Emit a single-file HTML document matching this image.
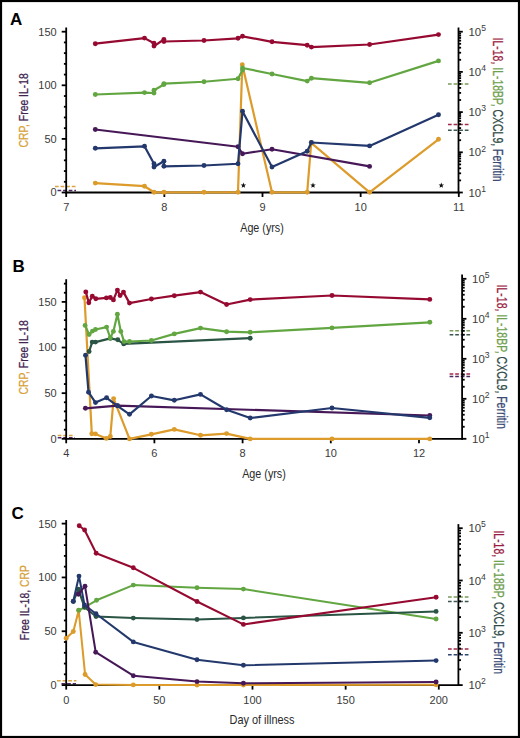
<!DOCTYPE html>
<html><head><meta charset="utf-8"><style>
html,body{margin:0;padding:0;background:#fff;}
svg{display:block;font-family:"Liberation Sans", sans-serif;}
</style></head><body>
<svg width="520" height="738" viewBox="0 0 520 738">
<rect x="1" y="1" width="518" height="736" fill="#fff" stroke="#000" stroke-width="2.2"/>
<line x1="55" y1="186.5" x2="75.5" y2="186.5" stroke="#d9a545" stroke-width="1.5" stroke-dasharray="3.7 1.9"/>
<line x1="57.5" y1="190.6" x2="76" y2="190.6" stroke="#4d2860" stroke-width="1.5" stroke-dasharray="3.7 1.9"/>
<line x1="448" y1="84" x2="469" y2="84" stroke="#7a9c58" stroke-width="1.5" stroke-dasharray="3.7 1.9"/>
<line x1="448" y1="124.6" x2="470" y2="124.6" stroke="#a3284a" stroke-width="1.5" stroke-dasharray="3.7 1.9"/>
<line x1="448" y1="130.3" x2="470" y2="130.3" stroke="#3b5652" stroke-width="1.5" stroke-dasharray="3.7 1.9"/>
<line x1="66.20" y1="27.50" x2="66.20" y2="193.40" stroke="#000" stroke-width="1.8" />
<line x1="61.70" y1="192.50" x2="66.20" y2="192.50" stroke="#000" stroke-width="1.8" />
<text x="56.70" y="196.40" font-size="11" text-anchor="end" fill="#3a3a3a" >0</text>
<line x1="63.90" y1="181.78" x2="66.20" y2="181.78" stroke="#000" stroke-width="1.8" />
<line x1="63.90" y1="171.06" x2="66.20" y2="171.06" stroke="#000" stroke-width="1.8" />
<line x1="63.90" y1="160.34" x2="66.20" y2="160.34" stroke="#000" stroke-width="1.8" />
<line x1="63.90" y1="149.62" x2="66.20" y2="149.62" stroke="#000" stroke-width="1.8" />
<line x1="61.70" y1="138.90" x2="66.20" y2="138.90" stroke="#000" stroke-width="1.8" />
<text x="56.70" y="142.80" font-size="11" text-anchor="end" fill="#3a3a3a" >50</text>
<line x1="63.90" y1="128.18" x2="66.20" y2="128.18" stroke="#000" stroke-width="1.8" />
<line x1="63.90" y1="117.46" x2="66.20" y2="117.46" stroke="#000" stroke-width="1.8" />
<line x1="63.90" y1="106.74" x2="66.20" y2="106.74" stroke="#000" stroke-width="1.8" />
<line x1="63.90" y1="96.02" x2="66.20" y2="96.02" stroke="#000" stroke-width="1.8" />
<line x1="61.70" y1="85.30" x2="66.20" y2="85.30" stroke="#000" stroke-width="1.8" />
<text x="56.70" y="89.20" font-size="11" text-anchor="end" fill="#3a3a3a" >100</text>
<line x1="63.90" y1="74.58" x2="66.20" y2="74.58" stroke="#000" stroke-width="1.8" />
<line x1="63.90" y1="63.86" x2="66.20" y2="63.86" stroke="#000" stroke-width="1.8" />
<line x1="63.90" y1="53.14" x2="66.20" y2="53.14" stroke="#000" stroke-width="1.8" />
<line x1="63.90" y1="42.42" x2="66.20" y2="42.42" stroke="#000" stroke-width="1.8" />
<line x1="61.70" y1="31.70" x2="66.20" y2="31.70" stroke="#000" stroke-width="1.8" />
<text x="56.70" y="35.60" font-size="11" text-anchor="end" fill="#3a3a3a" >150</text>
<line x1="458.50" y1="27.50" x2="458.50" y2="193.40" stroke="#000" stroke-width="1.8" />
<line x1="458.50" y1="192.50" x2="462.80" y2="192.50" stroke="#000" stroke-width="1.8" />
<text x="468.50" y="196.60" font-size="11.4" fill="#3a3a3a">10<tspan dy="-4.9" font-size="8.6">1</tspan></text>
<line x1="458.50" y1="180.40" x2="461.10" y2="180.40" stroke="#000" stroke-width="1.8" />
<line x1="458.50" y1="173.32" x2="461.10" y2="173.32" stroke="#000" stroke-width="1.8" />
<line x1="458.50" y1="168.30" x2="461.10" y2="168.30" stroke="#000" stroke-width="1.8" />
<line x1="458.50" y1="164.40" x2="461.10" y2="164.40" stroke="#000" stroke-width="1.8" />
<line x1="458.50" y1="161.22" x2="461.10" y2="161.22" stroke="#000" stroke-width="1.8" />
<line x1="458.50" y1="158.53" x2="461.10" y2="158.53" stroke="#000" stroke-width="1.8" />
<line x1="458.50" y1="156.20" x2="461.10" y2="156.20" stroke="#000" stroke-width="1.8" />
<line x1="458.50" y1="154.14" x2="461.10" y2="154.14" stroke="#000" stroke-width="1.8" />
<line x1="458.50" y1="152.30" x2="462.80" y2="152.30" stroke="#000" stroke-width="1.8" />
<text x="468.50" y="156.40" font-size="11.4" fill="#3a3a3a">10<tspan dy="-4.9" font-size="8.6">2</tspan></text>
<line x1="458.50" y1="140.20" x2="461.10" y2="140.20" stroke="#000" stroke-width="1.8" />
<line x1="458.50" y1="133.12" x2="461.10" y2="133.12" stroke="#000" stroke-width="1.8" />
<line x1="458.50" y1="128.10" x2="461.10" y2="128.10" stroke="#000" stroke-width="1.8" />
<line x1="458.50" y1="124.20" x2="461.10" y2="124.20" stroke="#000" stroke-width="1.8" />
<line x1="458.50" y1="121.02" x2="461.10" y2="121.02" stroke="#000" stroke-width="1.8" />
<line x1="458.50" y1="118.33" x2="461.10" y2="118.33" stroke="#000" stroke-width="1.8" />
<line x1="458.50" y1="116.00" x2="461.10" y2="116.00" stroke="#000" stroke-width="1.8" />
<line x1="458.50" y1="113.94" x2="461.10" y2="113.94" stroke="#000" stroke-width="1.8" />
<line x1="458.50" y1="112.10" x2="462.80" y2="112.10" stroke="#000" stroke-width="1.8" />
<text x="468.50" y="116.20" font-size="11.4" fill="#3a3a3a">10<tspan dy="-4.9" font-size="8.6">3</tspan></text>
<line x1="458.50" y1="100.00" x2="461.10" y2="100.00" stroke="#000" stroke-width="1.8" />
<line x1="458.50" y1="92.92" x2="461.10" y2="92.92" stroke="#000" stroke-width="1.8" />
<line x1="458.50" y1="87.90" x2="461.10" y2="87.90" stroke="#000" stroke-width="1.8" />
<line x1="458.50" y1="84.00" x2="461.10" y2="84.00" stroke="#000" stroke-width="1.8" />
<line x1="458.50" y1="80.82" x2="461.10" y2="80.82" stroke="#000" stroke-width="1.8" />
<line x1="458.50" y1="78.13" x2="461.10" y2="78.13" stroke="#000" stroke-width="1.8" />
<line x1="458.50" y1="75.80" x2="461.10" y2="75.80" stroke="#000" stroke-width="1.8" />
<line x1="458.50" y1="73.74" x2="461.10" y2="73.74" stroke="#000" stroke-width="1.8" />
<line x1="458.50" y1="71.90" x2="462.80" y2="71.90" stroke="#000" stroke-width="1.8" />
<text x="468.50" y="76.00" font-size="11.4" fill="#3a3a3a">10<tspan dy="-4.9" font-size="8.6">4</tspan></text>
<line x1="458.50" y1="59.80" x2="461.10" y2="59.80" stroke="#000" stroke-width="1.8" />
<line x1="458.50" y1="52.72" x2="461.10" y2="52.72" stroke="#000" stroke-width="1.8" />
<line x1="458.50" y1="47.70" x2="461.10" y2="47.70" stroke="#000" stroke-width="1.8" />
<line x1="458.50" y1="43.80" x2="461.10" y2="43.80" stroke="#000" stroke-width="1.8" />
<line x1="458.50" y1="40.62" x2="461.10" y2="40.62" stroke="#000" stroke-width="1.8" />
<line x1="458.50" y1="37.93" x2="461.10" y2="37.93" stroke="#000" stroke-width="1.8" />
<line x1="458.50" y1="35.60" x2="461.10" y2="35.60" stroke="#000" stroke-width="1.8" />
<line x1="458.50" y1="33.54" x2="461.10" y2="33.54" stroke="#000" stroke-width="1.8" />
<line x1="458.50" y1="31.70" x2="462.80" y2="31.70" stroke="#000" stroke-width="1.8" />
<text x="468.50" y="35.80" font-size="11.4" fill="#3a3a3a">10<tspan dy="-4.9" font-size="8.6">5</tspan></text>
<line x1="65.30" y1="192.50" x2="459.40" y2="192.50" stroke="#000" stroke-width="1.8" />
<line x1="66.20" y1="192.50" x2="66.20" y2="197.00" stroke="#000" stroke-width="1.8" />
<text x="66.20" y="210.90" font-size="11" text-anchor="middle" fill="#3a3a3a" >7</text>
<line x1="164.35" y1="192.50" x2="164.35" y2="197.00" stroke="#000" stroke-width="1.8" />
<text x="164.35" y="210.90" font-size="11" text-anchor="middle" fill="#3a3a3a" >8</text>
<line x1="262.50" y1="192.50" x2="262.50" y2="197.00" stroke="#000" stroke-width="1.8" />
<text x="262.50" y="210.90" font-size="11" text-anchor="middle" fill="#3a3a3a" >9</text>
<line x1="360.65" y1="192.50" x2="360.65" y2="197.00" stroke="#000" stroke-width="1.8" />
<text x="360.65" y="210.90" font-size="11" text-anchor="middle" fill="#3a3a3a" >10</text>
<line x1="458.80" y1="192.50" x2="458.80" y2="197.00" stroke="#000" stroke-width="1.8" />
<text x="458.80" y="210.90" font-size="11" text-anchor="middle" fill="#3a3a3a" >11</text>
<text x="10" y="25" font-size="17" font-weight="bold" fill="#000">A</text>
<polyline points="95.30,183.10 144.50,186.20 154.00,192.30 163.90,192.30 204.00,192.30 238.00,192.30 242.30,64.80 272.00,192.30 307.20,192.30 311.20,142.80 369.60,192.30 438.50,139.30" fill="none" stroke="#dc9b2a" stroke-width="2.2" stroke-linejoin="round" stroke-linecap="round"/>
<circle cx="95.30" cy="183.10" r="2.45" fill="#dc9b2a"/>
<circle cx="144.50" cy="186.20" r="2.45" fill="#dc9b2a"/>
<circle cx="154.00" cy="192.30" r="2.45" fill="#dc9b2a"/>
<circle cx="163.90" cy="192.30" r="2.45" fill="#dc9b2a"/>
<circle cx="204.00" cy="192.30" r="2.45" fill="#dc9b2a"/>
<circle cx="238.00" cy="192.30" r="2.45" fill="#dc9b2a"/>
<circle cx="242.30" cy="64.80" r="2.45" fill="#dc9b2a"/>
<circle cx="272.00" cy="192.30" r="2.45" fill="#dc9b2a"/>
<circle cx="307.20" cy="192.30" r="2.45" fill="#dc9b2a"/>
<circle cx="311.20" cy="142.80" r="2.45" fill="#dc9b2a"/>
<circle cx="369.60" cy="192.30" r="2.45" fill="#dc9b2a"/>
<circle cx="438.50" cy="139.30" r="2.45" fill="#dc9b2a"/>
<polyline points="95.30,129.50 238.00,146.75 242.50,153.75 272.00,149.25 369.60,166.40" fill="none" stroke="#461858" stroke-width="2.2" stroke-linejoin="round" stroke-linecap="round"/>
<circle cx="95.30" cy="129.50" r="2.45" fill="#461858"/>
<circle cx="238.00" cy="146.75" r="2.45" fill="#461858"/>
<circle cx="242.50" cy="153.75" r="2.45" fill="#461858"/>
<circle cx="272.00" cy="149.25" r="2.45" fill="#461858"/>
<circle cx="369.60" cy="166.40" r="2.45" fill="#461858"/>
<polyline points="95.30,148.30 144.50,146.30 154.00,163.75 154.00,167.00 163.90,161.30 163.90,166.30 204.00,165.50 238.00,163.75 242.50,111.30 272.00,167.00 307.20,151.30 311.40,142.50 369.60,145.90 438.50,114.70" fill="none" stroke="#23386c" stroke-width="2.2" stroke-linejoin="round" stroke-linecap="round"/>
<circle cx="95.30" cy="148.30" r="2.45" fill="#23386c"/>
<circle cx="144.50" cy="146.30" r="2.45" fill="#23386c"/>
<circle cx="154.00" cy="163.75" r="2.45" fill="#23386c"/>
<circle cx="154.00" cy="167.00" r="2.45" fill="#23386c"/>
<circle cx="163.90" cy="161.30" r="2.45" fill="#23386c"/>
<circle cx="163.90" cy="166.30" r="2.45" fill="#23386c"/>
<circle cx="204.00" cy="165.50" r="2.45" fill="#23386c"/>
<circle cx="238.00" cy="163.75" r="2.45" fill="#23386c"/>
<circle cx="242.50" cy="111.30" r="2.45" fill="#23386c"/>
<circle cx="272.00" cy="167.00" r="2.45" fill="#23386c"/>
<circle cx="307.20" cy="151.30" r="2.45" fill="#23386c"/>
<circle cx="311.40" cy="142.50" r="2.45" fill="#23386c"/>
<circle cx="369.60" cy="145.90" r="2.45" fill="#23386c"/>
<circle cx="438.50" cy="114.70" r="2.45" fill="#23386c"/>
<polyline points="95.30,94.50 144.50,92.60 154.00,93.00 154.00,90.20 163.90,84.50 163.90,83.60 204.00,81.75 238.00,78.75 242.50,70.00 242.50,68.00 272.00,74.00 307.20,81.10 311.40,78.20 369.60,82.80 438.50,60.90" fill="none" stroke="#62a642" stroke-width="2.2" stroke-linejoin="round" stroke-linecap="round"/>
<circle cx="95.30" cy="94.50" r="2.45" fill="#62a642"/>
<circle cx="144.50" cy="92.60" r="2.45" fill="#62a642"/>
<circle cx="154.00" cy="93.00" r="2.45" fill="#62a642"/>
<circle cx="154.00" cy="90.20" r="2.45" fill="#62a642"/>
<circle cx="163.90" cy="84.50" r="2.45" fill="#62a642"/>
<circle cx="163.90" cy="83.60" r="2.45" fill="#62a642"/>
<circle cx="204.00" cy="81.75" r="2.45" fill="#62a642"/>
<circle cx="238.00" cy="78.75" r="2.45" fill="#62a642"/>
<circle cx="242.50" cy="70.00" r="2.45" fill="#62a642"/>
<circle cx="242.50" cy="68.00" r="2.45" fill="#62a642"/>
<circle cx="272.00" cy="74.00" r="2.45" fill="#62a642"/>
<circle cx="307.20" cy="81.10" r="2.45" fill="#62a642"/>
<circle cx="311.40" cy="78.20" r="2.45" fill="#62a642"/>
<circle cx="369.60" cy="82.80" r="2.45" fill="#62a642"/>
<circle cx="438.50" cy="60.90" r="2.45" fill="#62a642"/>
<polyline points="95.30,43.70 144.50,38.10 154.00,43.30 154.00,46.10 163.90,39.50 163.90,41.50 204.00,40.50 238.00,38.30 242.50,36.30 272.00,41.80 307.20,45.20 311.40,47.10 369.60,44.50 438.50,34.60" fill="none" stroke="#960a31" stroke-width="2.2" stroke-linejoin="round" stroke-linecap="round"/>
<circle cx="95.30" cy="43.70" r="2.45" fill="#960a31"/>
<circle cx="144.50" cy="38.10" r="2.45" fill="#960a31"/>
<circle cx="154.00" cy="43.30" r="2.45" fill="#960a31"/>
<circle cx="154.00" cy="46.10" r="2.45" fill="#960a31"/>
<circle cx="163.90" cy="39.50" r="2.45" fill="#960a31"/>
<circle cx="163.90" cy="41.50" r="2.45" fill="#960a31"/>
<circle cx="204.00" cy="40.50" r="2.45" fill="#960a31"/>
<circle cx="238.00" cy="38.30" r="2.45" fill="#960a31"/>
<circle cx="242.50" cy="36.30" r="2.45" fill="#960a31"/>
<circle cx="272.00" cy="41.80" r="2.45" fill="#960a31"/>
<circle cx="307.20" cy="45.20" r="2.45" fill="#960a31"/>
<circle cx="311.40" cy="47.10" r="2.45" fill="#960a31"/>
<circle cx="369.60" cy="44.50" r="2.45" fill="#960a31"/>
<circle cx="438.50" cy="34.60" r="2.45" fill="#960a31"/>
<polygon points="243.40,182.50 244.13,184.39 246.16,184.50 244.59,185.79 245.10,187.75 243.40,186.65 241.70,187.75 242.21,185.79 240.64,184.50 242.67,184.39" fill="#111"/>
<polygon points="313.00,182.50 313.73,184.39 315.76,184.50 314.19,185.79 314.70,187.75 313.00,186.65 311.30,187.75 311.81,185.79 310.24,184.50 312.27,184.39" fill="#111"/>
<polygon points="441.30,182.50 442.03,184.39 444.06,184.50 442.49,185.79 443.00,187.75 441.30,186.65 439.60,187.75 440.11,185.79 438.54,184.50 440.57,184.39" fill="#111"/>
<text transform="translate(28.20,110.40) rotate(-90)" x="0" y="0" font-size="13.5" text-anchor="middle" textLength="74.3" lengthAdjust="spacingAndGlyphs"><tspan fill="#d6a23a" stroke="#d6a23a" stroke-width="0.25">CRP, </tspan><tspan fill="#40244f" stroke="#40244f" stroke-width="0.25">Free IL-18</tspan></text>
<text transform="translate(493.40,109.60) rotate(90)" x="0" y="0" font-size="14" text-anchor="middle" textLength="144" lengthAdjust="spacingAndGlyphs"><tspan fill="#9a1c42" stroke="#9a1c42" stroke-width="0.25">IL-18, </tspan><tspan fill="#6fa04e" stroke="#6fa04e" stroke-width="0.25">IL-18BP, </tspan><tspan fill="#2f4a48" stroke="#2f4a48" stroke-width="0.25">CXCL9, </tspan><tspan fill="#394a74" stroke="#394a74" stroke-width="0.25">Ferritin</tspan></text>
<text x="262" y="232" font-size="13.3" text-anchor="middle" fill="#2a2a2a" textLength="43.5" lengthAdjust="spacingAndGlyphs">Age (yrs)</text>
<line x1="57.7" y1="435.4" x2="74.6" y2="435.4" stroke="#d9a545" stroke-width="1.5" stroke-dasharray="3.7 1.9"/>
<line x1="57.7" y1="437.8" x2="75" y2="437.8" stroke="#4d2860" stroke-width="1.5" stroke-dasharray="3.7 1.9"/>
<line x1="449.6" y1="330.7" x2="471" y2="330.7" stroke="#7a9c58" stroke-width="1.5" stroke-dasharray="3.7 1.9"/>
<line x1="449.6" y1="334.8" x2="471" y2="334.8" stroke="#3b5652" stroke-width="1.5" stroke-dasharray="3.7 1.9"/>
<line x1="449.6" y1="373.9" x2="471" y2="373.9" stroke="#a3284a" stroke-width="1.5" stroke-dasharray="3.7 1.9"/>
<line x1="449.6" y1="376.4" x2="471" y2="376.4" stroke="#4d2860" stroke-width="1.5" stroke-dasharray="3.7 1.9"/>
<line x1="66.20" y1="279.20" x2="66.20" y2="439.70" stroke="#000" stroke-width="1.8" />
<line x1="61.70" y1="438.80" x2="66.20" y2="438.80" stroke="#000" stroke-width="1.8" />
<text x="56.70" y="442.70" font-size="11" text-anchor="end" fill="#3a3a3a" >0</text>
<line x1="63.90" y1="429.67" x2="66.20" y2="429.67" stroke="#000" stroke-width="1.8" />
<line x1="63.90" y1="420.55" x2="66.20" y2="420.55" stroke="#000" stroke-width="1.8" />
<line x1="63.90" y1="411.42" x2="66.20" y2="411.42" stroke="#000" stroke-width="1.8" />
<line x1="63.90" y1="402.29" x2="66.20" y2="402.29" stroke="#000" stroke-width="1.8" />
<line x1="61.70" y1="393.17" x2="66.20" y2="393.17" stroke="#000" stroke-width="1.8" />
<text x="56.70" y="397.06" font-size="11" text-anchor="end" fill="#3a3a3a" >50</text>
<line x1="63.90" y1="384.04" x2="66.20" y2="384.04" stroke="#000" stroke-width="1.8" />
<line x1="63.90" y1="374.91" x2="66.20" y2="374.91" stroke="#000" stroke-width="1.8" />
<line x1="63.90" y1="365.78" x2="66.20" y2="365.78" stroke="#000" stroke-width="1.8" />
<line x1="63.90" y1="356.66" x2="66.20" y2="356.66" stroke="#000" stroke-width="1.8" />
<line x1="61.70" y1="347.53" x2="66.20" y2="347.53" stroke="#000" stroke-width="1.8" />
<text x="56.70" y="351.43" font-size="11" text-anchor="end" fill="#3a3a3a" >100</text>
<line x1="63.90" y1="338.40" x2="66.20" y2="338.40" stroke="#000" stroke-width="1.8" />
<line x1="63.90" y1="329.28" x2="66.20" y2="329.28" stroke="#000" stroke-width="1.8" />
<line x1="63.90" y1="320.15" x2="66.20" y2="320.15" stroke="#000" stroke-width="1.8" />
<line x1="63.90" y1="311.02" x2="66.20" y2="311.02" stroke="#000" stroke-width="1.8" />
<line x1="61.70" y1="301.89" x2="66.20" y2="301.89" stroke="#000" stroke-width="1.8" />
<text x="56.70" y="305.79" font-size="11" text-anchor="end" fill="#3a3a3a" >150</text>
<line x1="63.90" y1="292.77" x2="66.20" y2="292.77" stroke="#000" stroke-width="1.8" />
<line x1="63.90" y1="283.64" x2="66.20" y2="283.64" stroke="#000" stroke-width="1.8" />
<line x1="462.10" y1="274.60" x2="462.10" y2="439.70" stroke="#000" stroke-width="1.8" />
<line x1="462.10" y1="438.80" x2="466.40" y2="438.80" stroke="#000" stroke-width="1.8" />
<text x="472.10" y="442.90" font-size="11.4" fill="#3a3a3a">10<tspan dy="-4.9" font-size="8.6">1</tspan></text>
<line x1="462.10" y1="426.76" x2="464.70" y2="426.76" stroke="#000" stroke-width="1.8" />
<line x1="462.10" y1="419.72" x2="464.70" y2="419.72" stroke="#000" stroke-width="1.8" />
<line x1="462.10" y1="414.72" x2="464.70" y2="414.72" stroke="#000" stroke-width="1.8" />
<line x1="462.10" y1="410.84" x2="464.70" y2="410.84" stroke="#000" stroke-width="1.8" />
<line x1="462.10" y1="407.67" x2="464.70" y2="407.67" stroke="#000" stroke-width="1.8" />
<line x1="462.10" y1="405.00" x2="464.70" y2="405.00" stroke="#000" stroke-width="1.8" />
<line x1="462.10" y1="402.68" x2="464.70" y2="402.68" stroke="#000" stroke-width="1.8" />
<line x1="462.10" y1="400.63" x2="464.70" y2="400.63" stroke="#000" stroke-width="1.8" />
<line x1="462.10" y1="398.80" x2="466.40" y2="398.80" stroke="#000" stroke-width="1.8" />
<text x="472.10" y="402.90" font-size="11.4" fill="#3a3a3a">10<tspan dy="-4.9" font-size="8.6">2</tspan></text>
<line x1="462.10" y1="386.76" x2="464.70" y2="386.76" stroke="#000" stroke-width="1.8" />
<line x1="462.10" y1="379.72" x2="464.70" y2="379.72" stroke="#000" stroke-width="1.8" />
<line x1="462.10" y1="374.72" x2="464.70" y2="374.72" stroke="#000" stroke-width="1.8" />
<line x1="462.10" y1="370.84" x2="464.70" y2="370.84" stroke="#000" stroke-width="1.8" />
<line x1="462.10" y1="367.67" x2="464.70" y2="367.67" stroke="#000" stroke-width="1.8" />
<line x1="462.10" y1="365.00" x2="464.70" y2="365.00" stroke="#000" stroke-width="1.8" />
<line x1="462.10" y1="362.68" x2="464.70" y2="362.68" stroke="#000" stroke-width="1.8" />
<line x1="462.10" y1="360.63" x2="464.70" y2="360.63" stroke="#000" stroke-width="1.8" />
<line x1="462.10" y1="358.80" x2="466.40" y2="358.80" stroke="#000" stroke-width="1.8" />
<text x="472.10" y="362.90" font-size="11.4" fill="#3a3a3a">10<tspan dy="-4.9" font-size="8.6">3</tspan></text>
<line x1="462.10" y1="346.76" x2="464.70" y2="346.76" stroke="#000" stroke-width="1.8" />
<line x1="462.10" y1="339.72" x2="464.70" y2="339.72" stroke="#000" stroke-width="1.8" />
<line x1="462.10" y1="334.72" x2="464.70" y2="334.72" stroke="#000" stroke-width="1.8" />
<line x1="462.10" y1="330.84" x2="464.70" y2="330.84" stroke="#000" stroke-width="1.8" />
<line x1="462.10" y1="327.67" x2="464.70" y2="327.67" stroke="#000" stroke-width="1.8" />
<line x1="462.10" y1="325.00" x2="464.70" y2="325.00" stroke="#000" stroke-width="1.8" />
<line x1="462.10" y1="322.68" x2="464.70" y2="322.68" stroke="#000" stroke-width="1.8" />
<line x1="462.10" y1="320.63" x2="464.70" y2="320.63" stroke="#000" stroke-width="1.8" />
<line x1="462.10" y1="318.80" x2="466.40" y2="318.80" stroke="#000" stroke-width="1.8" />
<text x="472.10" y="322.90" font-size="11.4" fill="#3a3a3a">10<tspan dy="-4.9" font-size="8.6">4</tspan></text>
<line x1="462.10" y1="306.76" x2="464.70" y2="306.76" stroke="#000" stroke-width="1.8" />
<line x1="462.10" y1="299.72" x2="464.70" y2="299.72" stroke="#000" stroke-width="1.8" />
<line x1="462.10" y1="294.72" x2="464.70" y2="294.72" stroke="#000" stroke-width="1.8" />
<line x1="462.10" y1="290.84" x2="464.70" y2="290.84" stroke="#000" stroke-width="1.8" />
<line x1="462.10" y1="287.67" x2="464.70" y2="287.67" stroke="#000" stroke-width="1.8" />
<line x1="462.10" y1="285.00" x2="464.70" y2="285.00" stroke="#000" stroke-width="1.8" />
<line x1="462.10" y1="282.68" x2="464.70" y2="282.68" stroke="#000" stroke-width="1.8" />
<line x1="462.10" y1="280.63" x2="464.70" y2="280.63" stroke="#000" stroke-width="1.8" />
<line x1="462.10" y1="278.80" x2="466.40" y2="278.80" stroke="#000" stroke-width="1.8" />
<text x="472.10" y="282.90" font-size="11.4" fill="#3a3a3a">10<tspan dy="-4.9" font-size="8.6">5</tspan></text>
<line x1="65.30" y1="438.80" x2="463.00" y2="438.80" stroke="#000" stroke-width="1.8" />
<line x1="66.20" y1="438.80" x2="66.20" y2="443.30" stroke="#000" stroke-width="1.8" />
<text x="66.20" y="457.20" font-size="11" text-anchor="middle" fill="#3a3a3a" >4</text>
<line x1="154.40" y1="438.80" x2="154.40" y2="443.30" stroke="#000" stroke-width="1.8" />
<text x="154.40" y="457.20" font-size="11" text-anchor="middle" fill="#3a3a3a" >6</text>
<line x1="242.60" y1="438.80" x2="242.60" y2="443.30" stroke="#000" stroke-width="1.8" />
<text x="242.60" y="457.20" font-size="11" text-anchor="middle" fill="#3a3a3a" >8</text>
<line x1="330.80" y1="438.80" x2="330.80" y2="443.30" stroke="#000" stroke-width="1.8" />
<text x="330.80" y="457.20" font-size="11" text-anchor="middle" fill="#3a3a3a" >10</text>
<line x1="419.00" y1="438.80" x2="419.00" y2="443.30" stroke="#000" stroke-width="1.8" />
<text x="419.00" y="457.20" font-size="11" text-anchor="middle" fill="#3a3a3a" >12</text>
<text x="12.5" y="272.3" font-size="17" font-weight="bold" fill="#000">B</text>
<polyline points="84.50,297.70 91.80,433.80 95.50,433.90 106.30,438.40 110.30,436.50 113.60,398.60 129.50,438.90 151.40,434.30 174.30,429.40 200.50,435.30 226.60,433.60 250.20,438.90 332.00,438.90 429.80,438.90" fill="none" stroke="#dc9b2a" stroke-width="2.2" stroke-linejoin="round" stroke-linecap="round"/>
<circle cx="84.50" cy="297.70" r="2.45" fill="#dc9b2a"/>
<circle cx="91.80" cy="433.80" r="2.45" fill="#dc9b2a"/>
<circle cx="95.50" cy="433.90" r="2.45" fill="#dc9b2a"/>
<circle cx="106.30" cy="438.40" r="2.45" fill="#dc9b2a"/>
<circle cx="110.30" cy="436.50" r="2.45" fill="#dc9b2a"/>
<circle cx="113.60" cy="398.60" r="2.45" fill="#dc9b2a"/>
<circle cx="129.50" cy="438.90" r="2.45" fill="#dc9b2a"/>
<circle cx="151.40" cy="434.30" r="2.45" fill="#dc9b2a"/>
<circle cx="174.30" cy="429.40" r="2.45" fill="#dc9b2a"/>
<circle cx="200.50" cy="435.30" r="2.45" fill="#dc9b2a"/>
<circle cx="226.60" cy="433.60" r="2.45" fill="#dc9b2a"/>
<circle cx="250.20" cy="438.90" r="2.45" fill="#dc9b2a"/>
<circle cx="332.00" cy="438.90" r="2.45" fill="#dc9b2a"/>
<circle cx="429.80" cy="438.90" r="2.45" fill="#dc9b2a"/>
<polyline points="85.40,408.30 117.40,405.60 429.80,415.50" fill="none" stroke="#461858" stroke-width="2.2" stroke-linejoin="round" stroke-linecap="round"/>
<circle cx="85.40" cy="408.30" r="2.45" fill="#461858"/>
<circle cx="117.40" cy="405.60" r="2.45" fill="#461858"/>
<circle cx="429.80" cy="415.50" r="2.45" fill="#461858"/>
<polyline points="85.50,355.30 88.50,392.20 95.50,402.60 106.60,397.80 117.40,405.80 129.50,414.30 151.40,396.00 174.30,400.30 200.50,394.40 226.60,409.80 250.20,418.00 332.00,408.00 429.80,417.80" fill="none" stroke="#23386c" stroke-width="2.2" stroke-linejoin="round" stroke-linecap="round"/>
<circle cx="85.50" cy="355.30" r="2.45" fill="#23386c"/>
<circle cx="88.50" cy="392.20" r="2.45" fill="#23386c"/>
<circle cx="95.50" cy="402.60" r="2.45" fill="#23386c"/>
<circle cx="106.60" cy="397.80" r="2.45" fill="#23386c"/>
<circle cx="117.40" cy="405.80" r="2.45" fill="#23386c"/>
<circle cx="129.50" cy="414.30" r="2.45" fill="#23386c"/>
<circle cx="151.40" cy="396.00" r="2.45" fill="#23386c"/>
<circle cx="174.30" cy="400.30" r="2.45" fill="#23386c"/>
<circle cx="200.50" cy="394.40" r="2.45" fill="#23386c"/>
<circle cx="226.60" cy="409.80" r="2.45" fill="#23386c"/>
<circle cx="250.20" cy="418.00" r="2.45" fill="#23386c"/>
<circle cx="332.00" cy="408.00" r="2.45" fill="#23386c"/>
<circle cx="429.80" cy="417.80" r="2.45" fill="#23386c"/>
<polyline points="89.10,351.50 92.20,342.10 95.50,342.10 110.30,338.40 117.80,339.80 123.70,343.90 250.20,338.20" fill="none" stroke="#2a5444" stroke-width="2.2" stroke-linejoin="round" stroke-linecap="round"/>
<circle cx="89.10" cy="351.50" r="2.45" fill="#2a5444"/>
<circle cx="92.20" cy="342.10" r="2.45" fill="#2a5444"/>
<circle cx="95.50" cy="342.10" r="2.45" fill="#2a5444"/>
<circle cx="110.30" cy="338.40" r="2.45" fill="#2a5444"/>
<circle cx="117.80" cy="339.80" r="2.45" fill="#2a5444"/>
<circle cx="123.70" cy="343.90" r="2.45" fill="#2a5444"/>
<circle cx="250.20" cy="338.20" r="2.45" fill="#2a5444"/>
<polyline points="85.10,325.40 89.10,334.50 92.50,331.10 95.50,329.50 106.60,327.10 110.30,338.00 113.40,331.40 117.40,314.30 120.80,331.40 124.10,341.60 129.50,341.50 151.40,340.50 174.30,333.90 200.50,328.10 226.60,331.70 250.20,332.30 332.00,327.90 429.80,322.30" fill="none" stroke="#62a642" stroke-width="2.2" stroke-linejoin="round" stroke-linecap="round"/>
<circle cx="85.10" cy="325.40" r="2.45" fill="#62a642"/>
<circle cx="89.10" cy="334.50" r="2.45" fill="#62a642"/>
<circle cx="92.50" cy="331.10" r="2.45" fill="#62a642"/>
<circle cx="95.50" cy="329.50" r="2.45" fill="#62a642"/>
<circle cx="106.60" cy="327.10" r="2.45" fill="#62a642"/>
<circle cx="110.30" cy="338.00" r="2.45" fill="#62a642"/>
<circle cx="113.40" cy="331.40" r="2.45" fill="#62a642"/>
<circle cx="117.40" cy="314.30" r="2.45" fill="#62a642"/>
<circle cx="120.80" cy="331.40" r="2.45" fill="#62a642"/>
<circle cx="124.10" cy="341.60" r="2.45" fill="#62a642"/>
<circle cx="129.50" cy="341.50" r="2.45" fill="#62a642"/>
<circle cx="151.40" cy="340.50" r="2.45" fill="#62a642"/>
<circle cx="174.30" cy="333.90" r="2.45" fill="#62a642"/>
<circle cx="200.50" cy="328.10" r="2.45" fill="#62a642"/>
<circle cx="226.60" cy="331.70" r="2.45" fill="#62a642"/>
<circle cx="250.20" cy="332.30" r="2.45" fill="#62a642"/>
<circle cx="332.00" cy="327.90" r="2.45" fill="#62a642"/>
<circle cx="429.80" cy="322.30" r="2.45" fill="#62a642"/>
<polyline points="85.80,291.90 88.80,302.70 92.30,296.20 95.80,298.80 106.40,297.90 110.30,297.50 113.40,299.90 117.40,290.10 120.10,295.50 123.50,292.10 129.50,303.10 151.40,299.00 174.30,295.70 200.50,292.10 226.60,304.50 250.20,299.60 332.00,295.50 429.80,299.40" fill="none" stroke="#960a31" stroke-width="2.2" stroke-linejoin="round" stroke-linecap="round"/>
<circle cx="85.80" cy="291.90" r="2.45" fill="#960a31"/>
<circle cx="88.80" cy="302.70" r="2.45" fill="#960a31"/>
<circle cx="92.30" cy="296.20" r="2.45" fill="#960a31"/>
<circle cx="95.80" cy="298.80" r="2.45" fill="#960a31"/>
<circle cx="106.40" cy="297.90" r="2.45" fill="#960a31"/>
<circle cx="110.30" cy="297.50" r="2.45" fill="#960a31"/>
<circle cx="113.40" cy="299.90" r="2.45" fill="#960a31"/>
<circle cx="117.40" cy="290.10" r="2.45" fill="#960a31"/>
<circle cx="120.10" cy="295.50" r="2.45" fill="#960a31"/>
<circle cx="123.50" cy="292.10" r="2.45" fill="#960a31"/>
<circle cx="129.50" cy="303.10" r="2.45" fill="#960a31"/>
<circle cx="151.40" cy="299.00" r="2.45" fill="#960a31"/>
<circle cx="174.30" cy="295.70" r="2.45" fill="#960a31"/>
<circle cx="200.50" cy="292.10" r="2.45" fill="#960a31"/>
<circle cx="226.60" cy="304.50" r="2.45" fill="#960a31"/>
<circle cx="250.20" cy="299.60" r="2.45" fill="#960a31"/>
<circle cx="332.00" cy="295.50" r="2.45" fill="#960a31"/>
<circle cx="429.80" cy="299.40" r="2.45" fill="#960a31"/>
<text transform="translate(28.30,357.40) rotate(-90)" x="0" y="0" font-size="13.5" text-anchor="middle" textLength="74.3" lengthAdjust="spacingAndGlyphs"><tspan fill="#d6a23a" stroke="#d6a23a" stroke-width="0.25">CRP, </tspan><tspan fill="#40244f" stroke="#40244f" stroke-width="0.25">Free IL-18</tspan></text>
<text transform="translate(497.10,356.70) rotate(90)" x="0" y="0" font-size="14" text-anchor="middle" textLength="144.2" lengthAdjust="spacingAndGlyphs"><tspan fill="#9a1c42" stroke="#9a1c42" stroke-width="0.25">IL-18, </tspan><tspan fill="#6fa04e" stroke="#6fa04e" stroke-width="0.25">IL-18BP, </tspan><tspan fill="#2f4a48" stroke="#2f4a48" stroke-width="0.25">CXCL9, </tspan><tspan fill="#394a74" stroke="#394a74" stroke-width="0.25">Ferritin</tspan></text>
<text x="264" y="478.2" font-size="13.3" text-anchor="middle" fill="#2a2a2a" textLength="43.7" lengthAdjust="spacingAndGlyphs">Age (yrs)</text>
<line x1="57" y1="680.8" x2="76.5" y2="680.8" stroke="#d9a545" stroke-width="1.5" stroke-dasharray="3.7 1.9"/>
<line x1="61.5" y1="683.8" x2="76" y2="683.8" stroke="#4d2860" stroke-width="1.5" stroke-dasharray="3.7 1.9"/>
<line x1="448" y1="597" x2="469.5" y2="597" stroke="#7a9c58" stroke-width="1.5" stroke-dasharray="3.7 1.9"/>
<line x1="448" y1="601.6" x2="469.5" y2="601.6" stroke="#3b5652" stroke-width="1.5" stroke-dasharray="3.7 1.9"/>
<line x1="448" y1="649.1" x2="469.5" y2="649.1" stroke="#a3284a" stroke-width="1.5" stroke-dasharray="3.7 1.9"/>
<line x1="448" y1="654.7" x2="469.5" y2="654.7" stroke="#2d4474" stroke-width="1.5" stroke-dasharray="3.7 1.9"/>
<line x1="66.20" y1="520.00" x2="66.20" y2="686.00" stroke="#000" stroke-width="1.8" />
<line x1="61.70" y1="685.10" x2="66.20" y2="685.10" stroke="#000" stroke-width="1.8" />
<text x="56.70" y="689.00" font-size="11" text-anchor="end" fill="#3a3a3a" >0</text>
<line x1="63.90" y1="674.33" x2="66.20" y2="674.33" stroke="#000" stroke-width="1.8" />
<line x1="63.90" y1="663.57" x2="66.20" y2="663.57" stroke="#000" stroke-width="1.8" />
<line x1="63.90" y1="652.80" x2="66.20" y2="652.80" stroke="#000" stroke-width="1.8" />
<line x1="63.90" y1="642.03" x2="66.20" y2="642.03" stroke="#000" stroke-width="1.8" />
<line x1="61.70" y1="631.26" x2="66.20" y2="631.26" stroke="#000" stroke-width="1.8" />
<text x="56.70" y="635.16" font-size="11" text-anchor="end" fill="#3a3a3a" >50</text>
<line x1="63.90" y1="620.50" x2="66.20" y2="620.50" stroke="#000" stroke-width="1.8" />
<line x1="63.90" y1="609.73" x2="66.20" y2="609.73" stroke="#000" stroke-width="1.8" />
<line x1="63.90" y1="598.96" x2="66.20" y2="598.96" stroke="#000" stroke-width="1.8" />
<line x1="63.90" y1="588.20" x2="66.20" y2="588.20" stroke="#000" stroke-width="1.8" />
<line x1="61.70" y1="577.43" x2="66.20" y2="577.43" stroke="#000" stroke-width="1.8" />
<text x="56.70" y="581.33" font-size="11" text-anchor="end" fill="#3a3a3a" >100</text>
<line x1="63.90" y1="566.66" x2="66.20" y2="566.66" stroke="#000" stroke-width="1.8" />
<line x1="63.90" y1="555.90" x2="66.20" y2="555.90" stroke="#000" stroke-width="1.8" />
<line x1="63.90" y1="545.13" x2="66.20" y2="545.13" stroke="#000" stroke-width="1.8" />
<line x1="63.90" y1="534.36" x2="66.20" y2="534.36" stroke="#000" stroke-width="1.8" />
<line x1="61.70" y1="523.60" x2="66.20" y2="523.60" stroke="#000" stroke-width="1.8" />
<text x="56.70" y="527.50" font-size="11" text-anchor="end" fill="#3a3a3a" >150</text>
<line x1="458.40" y1="524.10" x2="458.40" y2="686.00" stroke="#000" stroke-width="1.8" />
<line x1="458.40" y1="685.10" x2="462.70" y2="685.10" stroke="#000" stroke-width="1.8" />
<text x="468.40" y="689.20" font-size="11.4" fill="#3a3a3a">10<tspan dy="-4.9" font-size="8.6">2</tspan></text>
<line x1="458.40" y1="669.36" x2="461.00" y2="669.36" stroke="#000" stroke-width="1.8" />
<line x1="458.40" y1="660.15" x2="461.00" y2="660.15" stroke="#000" stroke-width="1.8" />
<line x1="458.40" y1="653.61" x2="461.00" y2="653.61" stroke="#000" stroke-width="1.8" />
<line x1="458.40" y1="648.54" x2="461.00" y2="648.54" stroke="#000" stroke-width="1.8" />
<line x1="458.40" y1="644.40" x2="461.00" y2="644.40" stroke="#000" stroke-width="1.8" />
<line x1="458.40" y1="640.90" x2="461.00" y2="640.90" stroke="#000" stroke-width="1.8" />
<line x1="458.40" y1="637.87" x2="461.00" y2="637.87" stroke="#000" stroke-width="1.8" />
<line x1="458.40" y1="635.19" x2="461.00" y2="635.19" stroke="#000" stroke-width="1.8" />
<line x1="458.40" y1="632.80" x2="462.70" y2="632.80" stroke="#000" stroke-width="1.8" />
<text x="468.40" y="636.90" font-size="11.4" fill="#3a3a3a">10<tspan dy="-4.9" font-size="8.6">3</tspan></text>
<line x1="458.40" y1="617.06" x2="461.00" y2="617.06" stroke="#000" stroke-width="1.8" />
<line x1="458.40" y1="607.85" x2="461.00" y2="607.85" stroke="#000" stroke-width="1.8" />
<line x1="458.40" y1="601.31" x2="461.00" y2="601.31" stroke="#000" stroke-width="1.8" />
<line x1="458.40" y1="596.24" x2="461.00" y2="596.24" stroke="#000" stroke-width="1.8" />
<line x1="458.40" y1="592.10" x2="461.00" y2="592.10" stroke="#000" stroke-width="1.8" />
<line x1="458.40" y1="588.60" x2="461.00" y2="588.60" stroke="#000" stroke-width="1.8" />
<line x1="458.40" y1="585.57" x2="461.00" y2="585.57" stroke="#000" stroke-width="1.8" />
<line x1="458.40" y1="582.89" x2="461.00" y2="582.89" stroke="#000" stroke-width="1.8" />
<line x1="458.40" y1="580.50" x2="462.70" y2="580.50" stroke="#000" stroke-width="1.8" />
<text x="468.40" y="584.60" font-size="11.4" fill="#3a3a3a">10<tspan dy="-4.9" font-size="8.6">4</tspan></text>
<line x1="458.40" y1="564.76" x2="461.00" y2="564.76" stroke="#000" stroke-width="1.8" />
<line x1="458.40" y1="555.55" x2="461.00" y2="555.55" stroke="#000" stroke-width="1.8" />
<line x1="458.40" y1="549.01" x2="461.00" y2="549.01" stroke="#000" stroke-width="1.8" />
<line x1="458.40" y1="543.94" x2="461.00" y2="543.94" stroke="#000" stroke-width="1.8" />
<line x1="458.40" y1="539.80" x2="461.00" y2="539.80" stroke="#000" stroke-width="1.8" />
<line x1="458.40" y1="536.30" x2="461.00" y2="536.30" stroke="#000" stroke-width="1.8" />
<line x1="458.40" y1="533.27" x2="461.00" y2="533.27" stroke="#000" stroke-width="1.8" />
<line x1="458.40" y1="530.59" x2="461.00" y2="530.59" stroke="#000" stroke-width="1.8" />
<line x1="458.40" y1="528.20" x2="462.70" y2="528.20" stroke="#000" stroke-width="1.8" />
<text x="468.40" y="532.30" font-size="11.4" fill="#3a3a3a">10<tspan dy="-4.9" font-size="8.6">5</tspan></text>
<line x1="65.30" y1="685.10" x2="459.30" y2="685.10" stroke="#000" stroke-width="1.8" />
<line x1="66.20" y1="685.10" x2="66.20" y2="689.60" stroke="#000" stroke-width="1.8" />
<text x="66.20" y="703.50" font-size="11" text-anchor="middle" fill="#3a3a3a" >0</text>
<line x1="159.35" y1="685.10" x2="159.35" y2="689.60" stroke="#000" stroke-width="1.8" />
<text x="159.35" y="703.50" font-size="11" text-anchor="middle" fill="#3a3a3a" >50</text>
<line x1="252.50" y1="685.10" x2="252.50" y2="689.60" stroke="#000" stroke-width="1.8" />
<text x="252.50" y="703.50" font-size="11" text-anchor="middle" fill="#3a3a3a" >100</text>
<line x1="345.65" y1="685.10" x2="345.65" y2="689.60" stroke="#000" stroke-width="1.8" />
<text x="345.65" y="703.50" font-size="11" text-anchor="middle" fill="#3a3a3a" >150</text>
<line x1="438.80" y1="685.10" x2="438.80" y2="689.60" stroke="#000" stroke-width="1.8" />
<text x="438.80" y="703.50" font-size="11" text-anchor="middle" fill="#3a3a3a" >200</text>
<text x="11.5" y="519" font-size="17" font-weight="bold" fill="#000">C</text>
<polyline points="66.20,638.30 73.30,631.50 78.70,610.50 85.10,674.50 95.70,684.60 133.30,684.90 197.00,685.00 243.40,685.00 436.10,684.80" fill="none" stroke="#dc9b2a" stroke-width="2.05" stroke-linejoin="round" stroke-linecap="round"/>
<circle cx="66.20" cy="638.30" r="2.45" fill="#dc9b2a"/>
<circle cx="73.30" cy="631.50" r="2.45" fill="#dc9b2a"/>
<circle cx="78.70" cy="610.50" r="2.45" fill="#dc9b2a"/>
<circle cx="85.10" cy="674.50" r="2.45" fill="#dc9b2a"/>
<circle cx="95.70" cy="684.60" r="2.45" fill="#dc9b2a"/>
<circle cx="133.30" cy="684.90" r="2.45" fill="#dc9b2a"/>
<circle cx="197.00" cy="685.00" r="2.45" fill="#dc9b2a"/>
<circle cx="243.40" cy="685.00" r="2.45" fill="#dc9b2a"/>
<circle cx="436.10" cy="684.80" r="2.45" fill="#dc9b2a"/>
<polyline points="78.70,610.30 84.50,607.30 96.50,600.30 133.30,585.10 197.00,587.80 243.40,589.10 436.10,619.00" fill="none" stroke="#62a642" stroke-width="2.05" stroke-linejoin="round" stroke-linecap="round"/>
<circle cx="78.70" cy="610.30" r="2.45" fill="#62a642"/>
<circle cx="84.50" cy="607.30" r="2.45" fill="#62a642"/>
<circle cx="96.50" cy="600.30" r="2.45" fill="#62a642"/>
<circle cx="133.30" cy="585.10" r="2.45" fill="#62a642"/>
<circle cx="197.00" cy="587.80" r="2.45" fill="#62a642"/>
<circle cx="243.40" cy="589.10" r="2.45" fill="#62a642"/>
<circle cx="436.10" cy="619.00" r="2.45" fill="#62a642"/>
<polyline points="73.30,601.50 78.40,589.30 84.50,607.30 96.00,616.50 133.30,618.10 197.00,619.50 243.40,617.90 436.10,611.40" fill="none" stroke="#2a5444" stroke-width="2.05" stroke-linejoin="round" stroke-linecap="round"/>
<circle cx="73.30" cy="601.50" r="2.45" fill="#2a5444"/>
<circle cx="78.40" cy="589.30" r="2.45" fill="#2a5444"/>
<circle cx="84.50" cy="607.30" r="2.45" fill="#2a5444"/>
<circle cx="96.00" cy="616.50" r="2.45" fill="#2a5444"/>
<circle cx="133.30" cy="618.10" r="2.45" fill="#2a5444"/>
<circle cx="197.00" cy="619.50" r="2.45" fill="#2a5444"/>
<circle cx="243.40" cy="617.90" r="2.45" fill="#2a5444"/>
<circle cx="436.10" cy="611.40" r="2.45" fill="#2a5444"/>
<polyline points="73.30,601.20 79.00,576.10 84.50,605.00 96.00,613.80 133.30,641.90 197.00,659.70 243.40,665.30 436.10,660.60" fill="none" stroke="#23386c" stroke-width="2.05" stroke-linejoin="round" stroke-linecap="round"/>
<circle cx="73.30" cy="601.20" r="2.45" fill="#23386c"/>
<circle cx="79.00" cy="576.10" r="2.45" fill="#23386c"/>
<circle cx="84.50" cy="605.00" r="2.45" fill="#23386c"/>
<circle cx="96.00" cy="613.80" r="2.45" fill="#23386c"/>
<circle cx="133.30" cy="641.90" r="2.45" fill="#23386c"/>
<circle cx="197.00" cy="659.70" r="2.45" fill="#23386c"/>
<circle cx="243.40" cy="665.30" r="2.45" fill="#23386c"/>
<circle cx="436.10" cy="660.60" r="2.45" fill="#23386c"/>
<polyline points="78.40,594.20 85.00,586.20 95.70,652.20 133.30,675.70 197.00,681.60 243.40,683.30 436.10,682.00" fill="none" stroke="#461858" stroke-width="2.05" stroke-linejoin="round" stroke-linecap="round"/>
<circle cx="78.40" cy="594.20" r="2.45" fill="#461858"/>
<circle cx="85.00" cy="586.20" r="2.45" fill="#461858"/>
<circle cx="95.70" cy="652.20" r="2.45" fill="#461858"/>
<circle cx="133.30" cy="675.70" r="2.45" fill="#461858"/>
<circle cx="197.00" cy="681.60" r="2.45" fill="#461858"/>
<circle cx="243.40" cy="683.30" r="2.45" fill="#461858"/>
<circle cx="436.10" cy="682.00" r="2.45" fill="#461858"/>
<polyline points="79.20,525.80 84.60,530.00 96.20,553.30 133.30,567.80 197.00,601.50 243.40,624.40 436.10,597.20" fill="none" stroke="#960a31" stroke-width="2.05" stroke-linejoin="round" stroke-linecap="round"/>
<circle cx="79.20" cy="525.80" r="2.45" fill="#960a31"/>
<circle cx="84.60" cy="530.00" r="2.45" fill="#960a31"/>
<circle cx="96.20" cy="553.30" r="2.45" fill="#960a31"/>
<circle cx="133.30" cy="567.80" r="2.45" fill="#960a31"/>
<circle cx="197.00" cy="601.50" r="2.45" fill="#960a31"/>
<circle cx="243.40" cy="624.40" r="2.45" fill="#960a31"/>
<circle cx="436.10" cy="597.20" r="2.45" fill="#960a31"/>
<text transform="translate(28.70,602.70) rotate(-90)" x="0" y="0" font-size="13.5" text-anchor="middle" textLength="74.9" lengthAdjust="spacingAndGlyphs"><tspan fill="#40244f" stroke="#40244f" stroke-width="0.25">Free IL-18, </tspan><tspan fill="#d6a23a" stroke="#d6a23a" stroke-width="0.25">CRP</tspan></text>
<text transform="translate(493.60,602.20) rotate(90)" x="0" y="0" font-size="14" text-anchor="middle" textLength="143.5" lengthAdjust="spacingAndGlyphs"><tspan fill="#9a1c42" stroke="#9a1c42" stroke-width="0.25">IL-18, </tspan><tspan fill="#6fa04e" stroke="#6fa04e" stroke-width="0.25">IL-18BP, </tspan><tspan fill="#2f4a48" stroke="#2f4a48" stroke-width="0.25">CXCL9, </tspan><tspan fill="#394a74" stroke="#394a74" stroke-width="0.25">Ferritin</tspan></text>
<text x="262" y="724.2" font-size="13.3" text-anchor="middle" fill="#2a2a2a" textLength="65" lengthAdjust="spacingAndGlyphs">Day of illness</text>
</svg>
</body></html>
